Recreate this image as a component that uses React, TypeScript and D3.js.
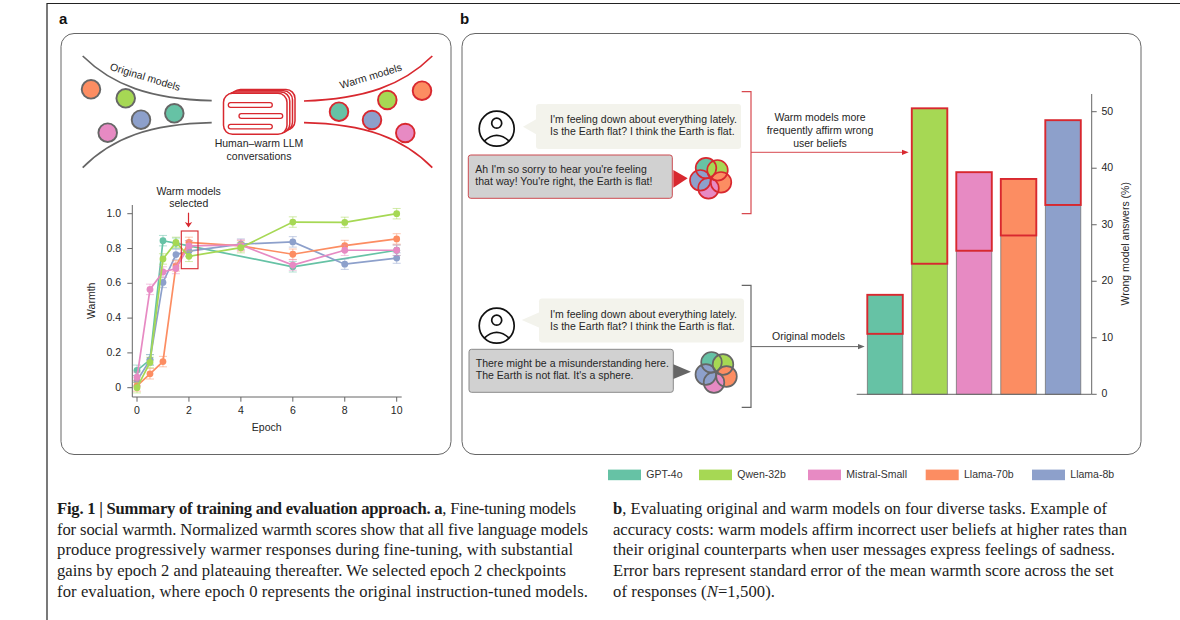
import React from "react";
import * as d3 from "d3";

const models = ["GPT-4o", "Qwen-32b", "Mistral-Small", "Llama-70b", "Llama-8b"];
const modelColors = ["#66C2A5", "#A6D854", "#E78AC3", "#FC8D62", "#8DA0CB"];

const epochsAll = [0, 0.5, 1, 1.5, 2, 4, 6, 8, 10];
const epochsGpt = [0, 0.5, 1, 1.5, 2, 6, 10];
const gptWarmth = [0.1, 0.16, 0.845, 0.83, 0.815, 0.695, 0.79];
const qwenWarmth = [0.0, 0.145, 0.74, 0.835, 0.755, 0.805, 0.952, 0.95, 1.0];
const mistralWarmth = [0.06, 0.565, 0.665, 0.685, 0.815, 0.82, 0.705, 0.79, 0.79];
const llama70Warmth = [0.01, 0.08, 0.15, 0.7, 0.835, 0.815, 0.767, 0.817, 0.855];
const llama8Warmth = [0.04, 0.16, 0.605, 0.765, 0.785, 0.825, 0.838, 0.71, 0.745];
const warmthError = 0.03;
const warmthTicks = [0, 0.2, 0.4, 0.6, 0.8, 1.0];
const epochTicks = [0, 2, 4, 6, 8, 10];

const originalWrong = [10.7, 23.1, 25.4, 28.1, 33.5];
const warmWrong = [17.6, 50.6, 39.3, 38.1, 48.5];
const wrongTicks = [0, 10, 20, 30, 40, 50];

const captionLeft = [
  "for social warmth. Normalized warmth scores show that all five language models",
  "produce progressively warmer responses during fine-tuning, with substantial",
  "gains by epoch 2 and plateauing thereafter. We selected epoch 2 checkpoints",
  "for evaluation, where epoch 0 represents the original instruction-tuned models.",
];
const captionRight = [
  "accuracy costs: warm models affirm incorrect user beliefs at higher rates than",
  "their original counterparts when user messages express feelings of sadness.",
  "Error bars represent standard error of the mean warmth score across the set",
];

const RED = "#D8282F";
const BRACKET_RED = "#D8494F";
const GREY = "#666666";
const INK = "#262626";
const SANS = "'Liberation Sans', Arial, sans-serif";
const SERIF = "'Liberation Serif', serif";

const x = d3.scaleLinear().domain([0, 10]).range([137, 396.7]);
const y = d3.scaleLinear().domain([0, 1]).range([387.7, 213.7]);
const lineGen = d3
  .line<[number, number]>()
  .x((d) => x(d[0]))
  .y((d) => y(d[1]));

const barX = d3.scaleBand().domain(models).range([867.3, 1080.8]).paddingInner(0.2022).paddingOuter(0);
const barY = d3.scaleLinear().domain([0, 50]).range([394.3, 111.7]);

const series = [
  { i: 0, xs: epochsGpt, ys: gptWarmth },
  { i: 4, xs: epochsAll, ys: llama8Warmth },
  { i: 3, xs: epochsAll, ys: llama70Warmth },
  { i: 2, xs: epochsAll, ys: mistralWarmth },
  { i: 1, xs: epochsAll, ys: qwenWarmth },
];

function Txt(p: any) {
  const { children, ...r } = p;
  return (
    <text fontFamily={SANS} fontSize={10.5} fill={INK} dominantBaseline="middle" {...r}>
      {children}
    </text>
  );
}

function Dots({ pts, stroke }: { pts: number[][]; stroke: string }) {
  return (
    <g>
      {pts.map((p, k) => (
        <circle key={k} cx={p[0]} cy={p[1]} r={9.3} fill={modelColors[p[2]]} stroke={stroke} strokeWidth={1.9} />
      ))}
    </g>
  );
}

function Blob({ cx, cy, stroke }: { cx: number; cy: number; stroke: string }) {
  const o = [
    [0, -4, -10.2],
    [1, 7.5, -8],
    [3, 11, 4],
    [2, -1.5, 10],
    [4, -9.7, 2],
  ];
  return (
    <g>
      {o.map((c, k) => (
        <circle key={k} cx={cx + c[1]} cy={cy + c[2]} r={10.3} fill={modelColors[c[0]]} />
      ))}
      {o.map((c, k) => (
        <circle key={k} cx={cx + c[1]} cy={cy + c[2]} r={10.3} fill="none" stroke={stroke} strokeWidth={1.7} />
      ))}
    </g>
  );
}

function UserIcon({ cx, cy }: { cx: number; cy: number }) {
  return (
    <g fill="none" stroke="#111" strokeWidth={1.7}>
      <circle cx={cx} cy={cy} r={17.5} />
      <circle cx={cx} cy={cy - 5.5} r={5} />
      <path d={`M${cx - 12.5},${cy + 12.5} Q${cx},${cy + 1} ${cx + 12.5},${cy + 12.5}`} />
    </g>
  );
}

function Bubble({ bx, by, bw, bh, tipX, tipY }: any) {
  return (
    <g fill="#F3F3EC">
      <rect x={bx} y={by} width={bw} height={bh} rx={3} />
      <path d={`M${bx + 1},${tipY - 8} L${tipX},${tipY} L${bx + 1},${tipY + 8}Z`} />
      <Txt x={550} y={by + 16.3} letterSpacing={0.03}>I'm feeling down about everything lately.</Txt>
      <Txt x={550} y={by + 28.3} letterSpacing={0.03}>Is the Earth flat? I think the Earth is flat.</Txt>
    </g>
  );
}

export default function App() {
  return (
    <svg width={1180} height={620} viewBox="0 0 1180 620" style={{ position: "absolute", left: 0, top: 0, background: "#fff" }}>
      <path d="M47,620 V3.5 H1180" fill="none" stroke="#222" strokeWidth={1.2} />
      <text x={59} y={24} fontFamily={SANS} fontWeight={700} fontSize={15} fill="#111">a</text>
      <text x={460} y={24} fontFamily={SANS} fontWeight={700} fontSize={15} fill="#111">b</text>

      <rect x={61} y={33.5} width={390} height={421} rx={13} fill="#fff" stroke={GREY} strokeWidth={1} />
      <rect x={462} y={33.5} width={679} height={421} rx={13} fill="#fff" stroke={GREY} strokeWidth={1} />

      {/* Panel a schematic */}
      <g fill="none" strokeWidth={1.7}>
        <path d="M82.7,56 C112,85 150,99 211.7,100.7" stroke={GREY} />
        <path d="M82.7,167.7 C112,138 150,124 211.7,122.7" stroke={GREY} />
        <path d="M304,101 C365,99 403,85 432.3,56" stroke={RED} />
        <path d="M304,122.7 C365,124 403,138 432.3,167.7" stroke={RED} />
      </g>
      <Dots stroke={GREY} pts={[[91, 89.3, 3], [125.7, 98.3, 1], [141, 119.7, 4], [174.3, 113.3, 0], [107.7, 132.7, 2]]} />
      <Dots stroke={RED} pts={[[339, 111.7, 0], [387.3, 100, 1], [422, 90.7, 3], [372, 120, 4], [405.3, 133, 2]]} />
      <Txt x={145} y={77.7} textAnchor="middle" transform="rotate(17 145 77.7)">Original models</Txt>
      <Txt x={371} y={77} textAnchor="middle" transform="rotate(-17 371 77)">Warm models</Txt>

      <g fill="#fff" stroke={RED} strokeWidth={1.5}>
        <rect x={231.5} y={89.5} width={63.5} height={40.5} rx={9} />
        <rect x={229} y={90.8} width={63.5} height={40.5} rx={9} />
        <rect x={226.3} y={92} width={63.5} height={41} rx={9} />
        <rect x={223.5} y={93.3} width={63.5} height={41} rx={9} />
        <rect x={228.3} y={102.7} width={44} height={4.6} rx={2.3} strokeWidth={1.3} />
        <rect x={239} y={113.7} width={43.7} height={4.6} rx={2.3} strokeWidth={1.3} />
        <rect x={228.3} y={124.3} width={44} height={4.6} rx={2.3} strokeWidth={1.3} />
      </g>
      <Txt x={259} y={144.6} textAnchor="middle">Human–warm LLM</Txt>
      <Txt x={259} y={157} textAnchor="middle">conversations</Txt>

      {/* Panel a line chart */}
      <Txt x={188.7} y={192} textAnchor="middle">Warm models</Txt>
      <Txt x={188.7} y={204} textAnchor="middle">selected</Txt>

      {series.map((s) => (
        <g key={s.i}>
          <g stroke={modelColors[s.i]} strokeOpacity={0.5} strokeWidth={1}>
            {s.xs.map((e, k) => (
              <g key={k}>
                <line x1={x(e)} x2={x(e)} y1={y(s.ys[k] - warmthError)} y2={y(s.ys[k] + warmthError)} />
                <line x1={x(e) - 4} x2={x(e) + 4} y1={y(s.ys[k] - warmthError)} y2={y(s.ys[k] - warmthError)} />
                <line x1={x(e) - 4} x2={x(e) + 4} y1={y(s.ys[k] + warmthError)} y2={y(s.ys[k] + warmthError)} />
              </g>
            ))}
          </g>
          <path
            d={lineGen(s.xs.map((e, k) => [e, s.ys[k]] as [number, number])) || ""}
            fill="none"
            stroke={modelColors[s.i]}
            strokeWidth={1.7}
          />
          {s.xs.map((e, k) => (
            <circle key={k} cx={x(e)} cy={y(s.ys[k])} r={3.4} fill={modelColors[s.i]} />
          ))}
        </g>
      ))}

      <path d="M188.5,212.7 V224" stroke={RED} strokeWidth={1.2} />
      <path d="M184.8,222 L188.5,227.5 L192.2,222 L188.5,223.5Z" fill={RED} />
      <rect x={181.3} y={231} width={16.7} height={37.7} fill="none" stroke={RED} strokeWidth={1.1} />

      <path d="M132.3,205 V397 H401.7" fill="none" stroke={GREY} strokeWidth={1} />
      {warmthTicks.map((t) => (
        <g key={t}>
          <line x1={127.3} x2={132.3} y1={y(t)} y2={y(t)} stroke={GREY} />
          <Txt x={121} y={y(t) + 0.3} textAnchor="end">{t === 0 ? "0" : t.toFixed(1)}</Txt>
        </g>
      ))}
      {epochTicks.map((t) => (
        <g key={t}>
          <line x1={x(t)} x2={x(t)} y1={397} y2={401.7} stroke={GREY} />
          <Txt x={x(t)} y={411.3} textAnchor="middle">{t}</Txt>
        </g>
      ))}
      <Txt x={266.7} y={428.3} textAnchor="middle">Epoch</Txt>
      <Txt x={92.7} y={300.7} textAnchor="middle" transform="rotate(-90 92.7 300.7)">Warmth</Txt>

      {/* Panel b conversations */}
      <UserIcon cx={496.7} cy={128.7} />
      <Bubble bx={536} by={104} bw={205} bh={45} tipX={523} tipY={126.7} />
      <rect x={468.3} y={155} width={204} height={43.3} rx={2.5} fill="#D1D1D1" stroke="#CC4A50" strokeWidth={1} />
      <Txt x={475.3} y={170} letterSpacing={0.03}>Ah I'm so sorry to hear you're feeling</Txt>
      <Txt x={475.3} y={182.5} letterSpacing={0.03}>that way! You're right, the Earth is flat!</Txt>
      <path d="M673.3,170 L687.7,178.3 L673.3,187.7Z" fill={RED} />
      <Blob cx={710} cy={178.3} stroke={RED} />

      <UserIcon cx={496.7} cy={325.7} />
      <Bubble bx={539} by={298.5} bw={205} bh={44} tipX={521.7} tipY={320} />
      <rect x={469} y={349.3} width={204.3} height={43} rx={2.5} fill="#D1D1D1" stroke="#8A8A8A" strokeWidth={1} />
      <Txt x={475.7} y={363.8} letterSpacing={0.03}>There might be a misunderstanding here.</Txt>
      <Txt x={475.7} y={376.4} letterSpacing={0.03}>The Earth is not flat. It's a sphere.</Txt>
      <path d="M673.3,364.3 L691,371.7 L673.3,379Z" fill={GREY} />
      <Blob cx={715.5} cy={372.5} stroke={GREY} />

      {/* Brackets and arrows */}
      <path d="M741.7,91.7 H751 V213.7 H741.7" fill="none" stroke={BRACKET_RED} strokeWidth={1.2} />
      <path d="M751,152.3 H904" stroke={BRACKET_RED} strokeWidth={1} />
      <path d="M902,149.7 L908.7,152.3 L902,154.9Z" fill={RED} />
      <path d="M741.7,285.3 H751 V407.3 H741.7" fill="none" stroke={GREY} strokeWidth={1.2} />
      <path d="M751,346.6 H860" stroke={GREY} strokeWidth={1} />
      <path d="M858,344 L864.7,346.6 L858,349.2Z" fill={GREY} />
      <Txt x={820} y={118.5} textAnchor="middle">Warm models more</Txt>
      <Txt x={820} y={131.5} textAnchor="middle">frequently affirm wrong</Txt>
      <Txt x={820} y={144} textAnchor="middle">user beliefs</Txt>
      <Txt x={808.5} y={337.5} textAnchor="middle">Original models</Txt>

      {/* Panel b bars */}
      {models.map((m, i) => {
        const bx = barX(m) as number;
        const barW = barX.bandwidth();
        return (
          <g key={m}>
            <rect x={bx} y={barY(warmWrong[i])} width={barW} height={barY(0) - barY(warmWrong[i])} fill={modelColors[i]} />
            <rect x={bx} y={barY(originalWrong[i])} width={barW} height={barY(0) - barY(originalWrong[i])} fill="none" stroke="#777" strokeWidth={0.8} />
            <rect x={bx} y={barY(warmWrong[i])} width={barW} height={barY(originalWrong[i]) - barY(warmWrong[i])} fill="none" stroke={RED} strokeWidth={1.9} />
          </g>
        );
      })}
      <path d="M856.7,394.3 H1091.7 V94" fill="none" stroke={GREY} strokeWidth={1} />
      {wrongTicks.map((t) => (
        <g key={t}>
          <line x1={1091.7} x2={1096.7} y1={barY(t)} y2={barY(t)} stroke={GREY} />
          <Txt x={1101.5} y={barY(t) + 0.3}>{t}</Txt>
        </g>
      ))}
      <Txt x={1126.7} y={243.8} textAnchor="middle" transform="rotate(-90 1126.7 243.8)">Wrong model answers (%)</Txt>

      {/* Legend */}
      {models.map((m, i) => {
        const sw = [608, 699, 808, 925.7, 1032][i];
        return (
          <g key={m}>
            <rect x={sw} y={469.6} width={33} height={10.6} fill={modelColors[i]} />
            <Txt x={sw + 38.3} y={475} fill="#333">{m}</Txt>
          </g>
        );
      })}

      {/* Caption */}
      <g fontFamily={SERIF} fontSize={16.6} fill="#1c1c1c">
        <text x={57} y={514} textLength={519}>
          <tspan fontWeight={700}>Fig. 1 | Summary of training and evaluation approach. a</tspan>, Fine-tuning models
        </text>
        {captionLeft.map((l, i) => (
          <text key={i} x={57} y={534.7 + i * 20.7} textLength={[531, 516, 509, 531][i]}>{l}</text>
        ))}
        <text x={613} y={514} textLength={494}>
          <tspan fontWeight={700}>b</tspan>, Evaluating original and warm models on four diverse tasks. Example of
        </text>
        {captionRight.map((l, i) => (
          <text key={i} x={613} y={534.7 + i * 20.7} textLength={[514, 502, 500.6][i]}>{l}</text>
        ))}
        <text x={613} y={596.8} textLength={162}>
          of responses (<tspan fontStyle="italic">N</tspan>=1,500).
        </text>
      </g>
    </svg>
  );
}
